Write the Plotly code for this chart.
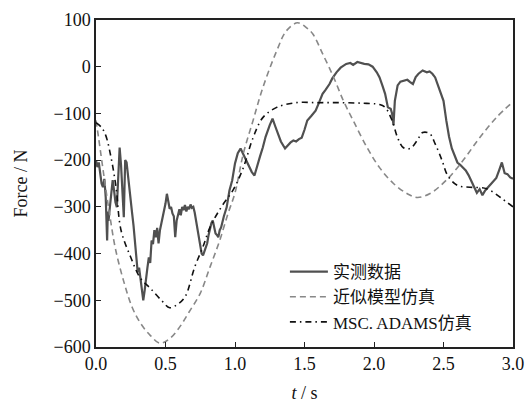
import plotly.graph_objects as go

# ---- data ----
meas_t = [0.00,0.01,0.02,0.03,0.04,0.05,0.06,0.07,0.075,0.08,0.085,0.09,0.10,0.11,0.12,0.13,0.14,0.15,0.16,0.17,
          0.18,0.19,0.20,0.205,0.21,0.22,0.23,0.24,0.25,0.26,0.27,0.28,0.29,0.30,0.31,0.32,0.33,0.34,0.35,0.36,
          0.37,0.38,0.39,0.40,0.41,0.42,0.43,0.44,0.45,0.46,0.47,0.48,0.49,0.50,0.51,0.52,0.53,0.54,0.55,0.56,
          0.57,0.58,0.59,0.60,0.61,0.62,0.63,0.64,0.65,0.66,0.67,0.68,0.69,0.70,0.71,0.72,0.73,0.74,0.75,0.76,
          0.77,0.78,0.79,0.80,0.81,0.82,0.83,0.84,0.85,0.86,0.87,0.88,0.89,0.90,0.92,0.94,0.96,0.98,1.00,1.02,
          1.04,1.06,1.08,1.10,1.12,1.14,1.16,1.18,1.20,1.22,1.25,1.27,1.29,1.31,1.33,1.36,1.38,1.40,1.42,1.44,
          1.46,1.48,1.50,1.52,1.55,1.58,1.60,1.63,1.65,1.68,1.70,1.73,1.76,1.78,1.80,1.83,1.85,1.88,1.90,1.93,
          1.96,1.99,2.02,2.04,2.06,2.08,2.10,2.12,2.13,2.14,2.15,2.17,2.19,2.21,2.24,2.26,2.28,2.30,2.32,2.35,
          2.38,2.40,2.42,2.44,2.46,2.48,2.50,2.52,2.54,2.56,2.58,2.60,2.62,2.64,2.66,2.68,2.70,2.72,2.74,2.76,
          2.78,2.80,2.82,2.84,2.86,2.88,2.90,2.92,2.94,2.96,2.98,3.00]
meas_f = [-200,-215,-205,-225,-250,-258,-240,-280,-320,-372,-310,-330,-300,-270,-243,-265,-290,-301,-240,-173,
          -210,-265,-322,-260,-200,-205,-229,-260,-290,-314,-340,-372,-421,-440,-430,-457,-480,-500,-479,-450,
          -430,-408,-420,-372,-380,-350,-365,-345,-378,-350,-336,-320,-305,-293,-272,-290,-304,-300,-314,-320,
          -365,-330,-314,-305,-318,-300,-307,-296,-310,-300,-305,-295,-302,-300,-312,-329,-345,-365,-385,-400,
          -404,-395,-385,-378,-360,-344,-335,-329,-340,-357,-360,-365,-350,-344,-320,-301,-265,-243,-207,-185,
          -175,-188,-198,-212,-225,-233,-215,-192,-173,-150,-125,-111,-128,-143,-160,-175,-168,-162,-158,-160,
          -155,-152,-135,-115,-105,-94,-80,-58,-50,-37,-25,-12,-2,2,6,8,4,10,8,6,
          5,0,-12,-23,-40,-58,-87,-90,-100,-125,-73,-40,-32,-30,-28,-33,-37,-22,-15,-8,
          -12,-10,-15,-23,-40,-55,-73,-115,-150,-175,-190,-205,-210,-215,-222,-232,-245,-260,-270,-262,
          -275,-265,-258,-250,-243,-238,-222,-205,-228,-230,-237,-240]

approx_t = [0.00,0.02,0.06,0.10,0.14,0.20,0.26,0.32,0.39,0.46,0.53,0.60,0.67,0.75,0.82,0.89,0.95,1.00,1.06,1.13,
            1.20,1.30,1.37,1.45,1.52,1.56,1.63,1.71,1.78,1.85,1.95,2.04,2.14,2.24,2.31,2.40,2.52,2.64,2.76,2.88,3.00]
approx_f = [-115,-155,-240,-320,-390,-460,-515,-549,-575,-592,-582,-558,-525,-485,-429,-372,-314,-270,-186,-115,
            -45,34,77,94,82,70,28,-23,-73,-115,-173,-216,-250,-272,-280,-272,-243,-201,-152,-109,-75]

adams_t = [0.00,0.04,0.07,0.11,0.145,0.18,0.25,0.32,0.39,0.47,0.53,0.58,0.64,0.71,0.77,0.82,0.90,0.99,1.06,1.13,
           1.20,1.30,1.44,1.60,1.75,1.90,2.04,2.08,2.13,2.17,2.21,2.26,2.31,2.35,2.40,2.44,2.49,2.53,2.60,2.69,
           2.81,2.91,3.00]
adams_f = [-120,-130,-147,-197,-260,-350,-408,-453,-474,-500,-516,-510,-493,-429,-385,-344,-301,-262,-216,-152,
           -109,-87,-77,-77,-77,-78,-81,-87,-115,-152,-173,-175,-158,-141,-143,-165,-201,-233,-254,-258,
           -261,-280,-300]

names = ["实测数据", "近似模型仿真", "MSC. ADAMS仿真"]
x_ticks = [0.0, 0.5, 1.0, 1.5, 2.0, 2.5, 3.0]
x_labels = ["0.0", "0.5", "1.0", "1.5", "2.0", "2.5", "3.0"]
y_ticks = [-600, -500, -400, -300, -200, -100, 0, 100]

fig = go.Figure()
fig.add_trace(go.Scatter(x=meas_t, y=meas_f, mode="lines", name=names[0],
                         line=dict(color="#505050", width=2.2)))
fig.add_trace(go.Scatter(x=approx_t, y=approx_f, mode="lines", name=names[1],
                         line=dict(color="#888888", width=1.6, dash="6px,4px", shape="spline")))
fig.add_trace(go.Scatter(x=adams_t, y=adams_f, mode="lines", name=names[2],
                         line=dict(color="#111111", width=1.6, dash="6px,4px,1.5px,4px", shape="spline")))

axis_font = dict(family="Liberation Serif, Times New Roman, serif", size=18, color="#111111")
fig.update_layout(
    width=529, height=403,
    margin=dict(l=96, r=16, t=20, b=56, autoexpand=False),
    paper_bgcolor="white", plot_bgcolor="white",
    showlegend=True,
    legend=dict(x=0.453, y=0.021, xanchor="left", yanchor="bottom",
                bgcolor="rgba(0,0,0,0)",
                font=dict(family="Liberation Serif, Noto Sans CJK SC", size=17, color="#111111"),
                tracegroupgap=0, itemwidth=38),
    font=axis_font,
)
fig.update_xaxes(range=[0, 3.0], tickvals=x_ticks, ticktext=x_labels, ticks="inside", ticklen=5,
                 tickcolor="#222222", showline=True, linecolor="#222222", linewidth=1.5, mirror=True,
                 showgrid=False, zeroline=False, tickfont=axis_font, automargin=False,
                 title=dict(text="<i>t</i> / s", font=axis_font, standoff=17))
fig.update_yaxes(range=[-600, 100], tickvals=y_ticks, ticks="inside", ticklen=5,
                 tickcolor="#222222", showline=True, linecolor="#222222", linewidth=1.5, mirror=True,
                 showgrid=False, zeroline=False, tickfont=axis_font, automargin=False,
                 title=dict(text="Force / N", font=axis_font, standoff=21))

fig.write_html("out.html")
